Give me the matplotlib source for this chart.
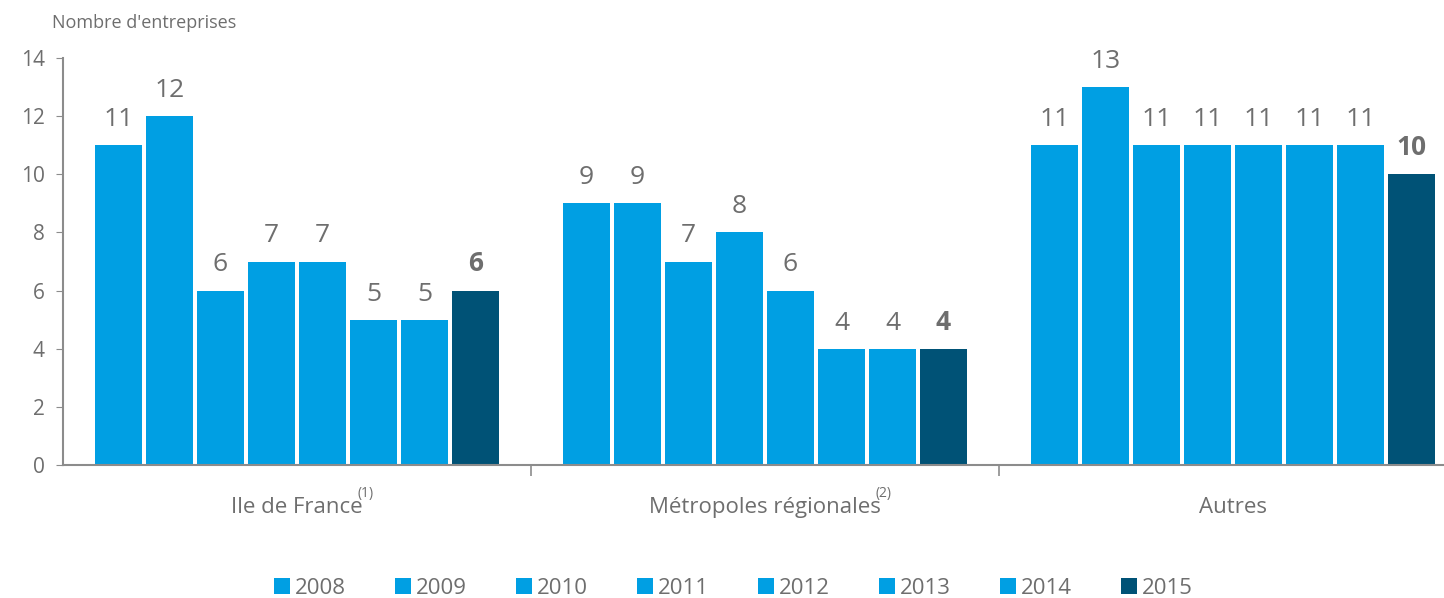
import matplotlib
matplotlib.use("Agg")
import matplotlib.pyplot as plt
import numpy as np

# Data
categories = ["Ile de France", "Métropoles régionales", "Autres"]
footnotes = ["(1)", "(2)", ""]
years = ["2008", "2009", "2010", "2011", "2012", "2013", "2014", "2015"]
values = {
    "2008": [11, 9, 11],
    "2009": [12, 9, 13],
    "2010": [6, 7, 11],
    "2011": [7, 8, 11],
    "2012": [7, 6, 11],
    "2013": [5, 4, 11],
    "2014": [5, 4, 11],
    "2015": [6, 4, 10],
}

light = "#009FE3"
dark = "#005276"
grey = "#6E6E6E"
axis_grey = "#8C8C8C"

plt.rcParams["font.family"] = ["Open Sans", "DejaVu Sans"]

fig = plt.figure(figsize=(14.44, 5.98), dpi=100)
ax = fig.add_axes([0.0436, 0.2224, 0.9564, 0.6806])

x = np.arange(len(categories))
slot = 0.109
width = 0.102
for i, yr in enumerate(years):
    color = dark if yr == "2015" else light
    offs = (i - 3.5) * slot
    ax.bar(x + offs, values[yr], width=width, color=color, label=yr)
    for xi, v in zip(x + offs, values[yr]):
        ax.text(xi, v + 0.45, str(v), ha="center", va="bottom", fontsize=19,
                color=grey, fontweight="bold" if yr == "2015" else "normal")

ax.set_xlim(-0.5, 2.451)
ax.set_ylim(0, 14)
ax.set_yticks(range(0, 15, 2))
ax.tick_params(axis="y", labelsize=15, colors=grey, length=5, color=axis_grey, pad=8)
ax.set_xticks([0.5, 1.5])
ax.set_xticklabels([])
ax.tick_params(axis="x", length=8, color=axis_grey, width=1.2)

for s in ["top", "right"]:
    ax.spines[s].set_visible(False)
for s in ["left", "bottom"]:
    ax.spines[s].set_color(axis_grey)
    ax.spines[s].set_linewidth(1.5)

# category labels with footnote marks
for xi, cat, fn in zip(x, categories, footnotes):
    t = ax.text(xi, -1.45, cat, ha="center", va="center", fontsize=16, color=grey)
    if fn:
        ax.annotate(fn, xy=(1, 1), xycoords=t, xytext=(-4, -3), textcoords="offset points",
                    ha="left", va="bottom", fontsize=10, color=grey)

fig.text(0.036, 0.962, "Nombre d'entreprises", fontsize=13, color=grey, ha="left", va="center")

leg = fig.legend(loc="center", bbox_to_anchor=(0.508, 0.016), ncol=8, frameon=False,
                 fontsize=16, handlelength=0.7, handleheight=0.7, handletextpad=0.25,
                 columnspacing=2.2)
for txt in leg.get_texts():
    txt.set_color(grey)

fig.savefig("out.png", dpi=100)
